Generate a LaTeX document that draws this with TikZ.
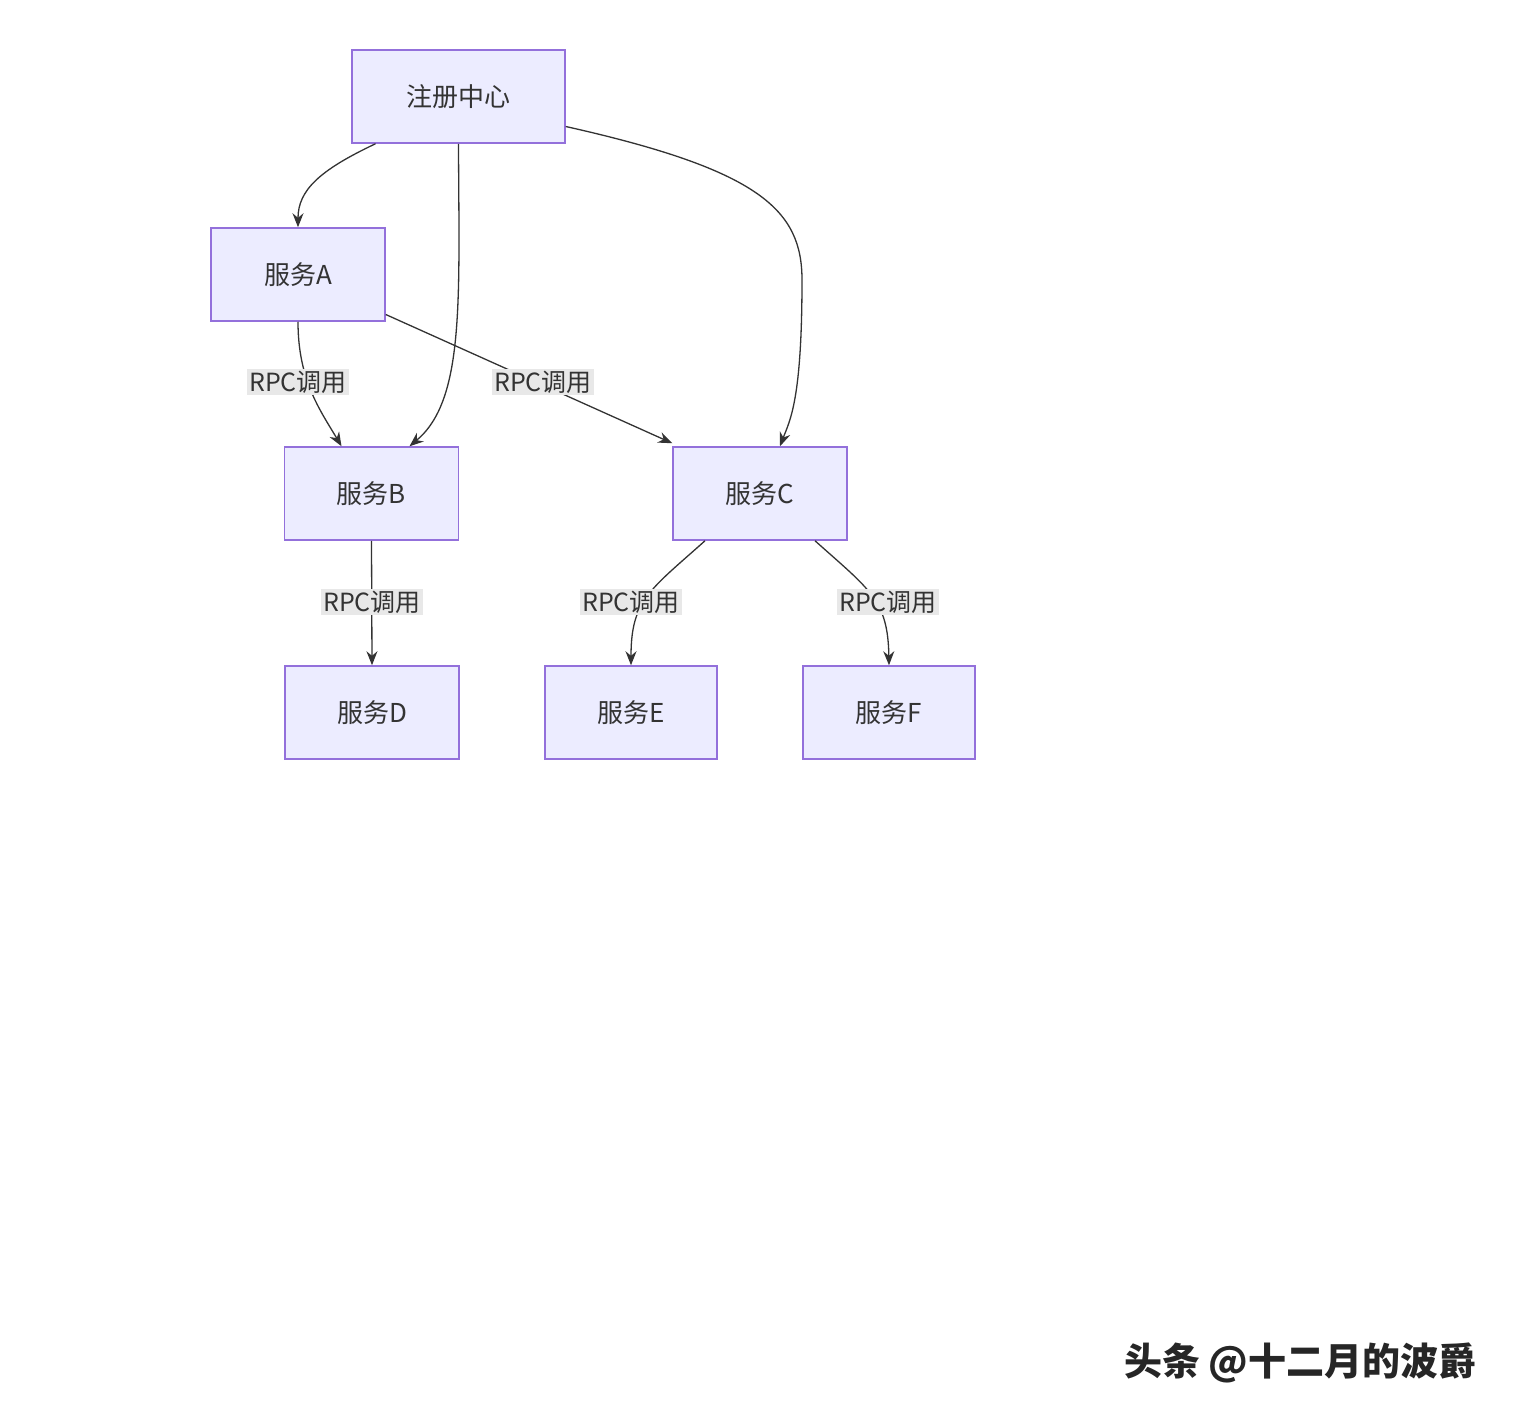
\documentclass[tikz,border=0pt]{standalone}
\usepackage{fontspec}
\setmainfont{Noto Sans CJK SC}
\usetikzlibrary{arrows.meta}
\definecolor{nodefill}{HTML}{ECECFF}
\definecolor{nodeline}{HTML}{9370DB}
\definecolor{lblfill}{HTML}{E8E8E8}
\definecolor{edge}{HTML}{333333}
\begin{document}
\begin{tikzpicture}[x=1pt,y=-1pt,
  box/.style={draw=nodeline,fill=nodefill,line width=1.5pt,minimum width=174pt,minimum height=93pt,inner sep=0pt,font=\fontsize{26}{30}\selectfont,text=edge},
  lbl/.style={fill=lblfill,inner sep=2pt,font=\fontsize{25}{29}\selectfont,text=edge},
  arr/.style={draw=edge,line width=1.3pt,-{Stealth[length=14pt,width=11pt]}}]
\path[use as bounding box,fill=white] (0,0) rectangle (1513,1419);
\node[box,minimum width=213pt] (reg) at (458.5,96.5) {注册中心};
\node[box] (A) at (298,274.5) {服务A};
\node[box] (B) at (371.5,493.5) {服务B};
\node[box] (C) at (760,493.5) {服务C};
\node[box] (D) at (372,712.5) {服务D};
\node[box,minimum width=172pt] (E) at (631,712.5) {服务E};
\node[box,minimum width=172pt] (F) at (889,712.5) {服务F};
\draw[arr] ([xshift=-83pt]reg.south) .. controls (320,170) and (298,190) .. (A.north);
\draw[arr] (reg.south) .. controls (459,300) and (465,400) .. ([xshift=38pt]B.north);
\draw[arr] ([yshift=-30pt]reg.east) .. controls (760,170) and (802,210) .. (802,280) .. controls (802,400) and (790,420) .. ([xshift=20pt]C.north);
\draw[arr] (A.south) .. controls (298,380) and (320,410) .. ([xshift=-30pt]B.north);
\draw[arr] ([yshift=-40pt]A.east) -- ([yshift=3pt]C.north west);
\draw[arr] (B.south) -- (D.north);
\draw[arr] ([xshift=-55pt]C.south) .. controls (650,590) and (631,600) .. (E.north);
\draw[arr] ([xshift=55pt]C.south) .. controls (870,590) and (888,600) .. (F.north);
\node[lbl] (l1) at (298,382) {RPC调用};
\node[lbl] (l2) at (543,382) {RPC调用};
\node[lbl] (l3) at (372,602) {RPC调用};
\node[lbl] (l4) at (631,602) {RPC调用};
\node[lbl] (l5) at (888,602) {RPC调用};
\node[font=\fontsize{38}{44}\selectfont\bfseries,text=black!85,anchor=east] (wm) at (1480,1363) {头条 @十二月的波爵};
\end{tikzpicture}
\end{document}
